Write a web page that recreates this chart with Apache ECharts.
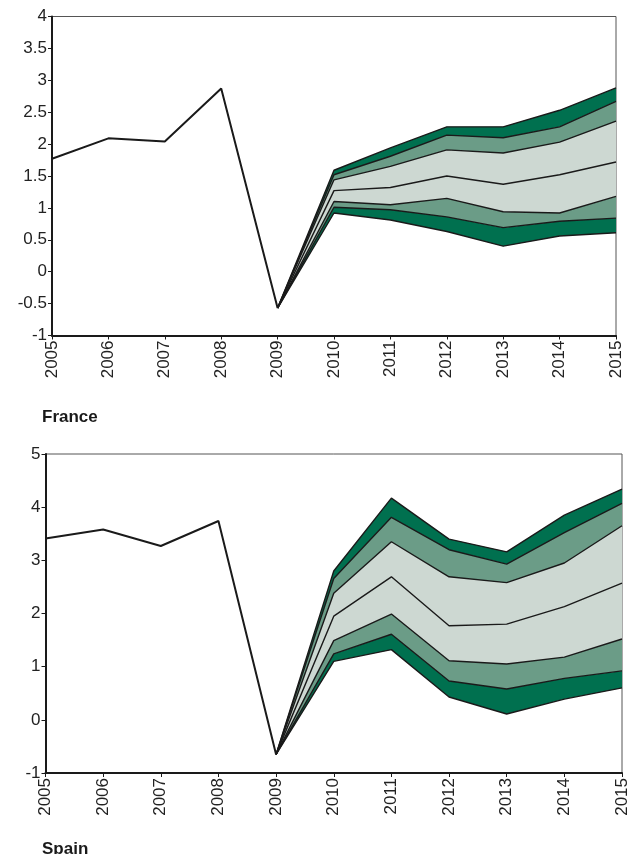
<!DOCTYPE html>
<html>
<head>
<meta charset="utf-8">
<script src="https://cdn.jsdelivr.net/npm/echarts@6/dist/echarts.min.js"></script>
<style>
html,body{margin:0;padding:0;background:#fff;}
#c{width:637px;height:854px;}
</style>
</head>
<body>
<div id="c"></div>
<script>
var years = ['2005','2006','2007','2008','2009','2010','2011','2012','2013','2014','2015'];

// France: history 2005-2009, fan 2010-2015
var frHist = [1.77, 2.09, 2.04, 2.87, -0.57];
var frP95 = [1.59, 1.94, 2.27, 2.27, 2.53, 2.88];
var frP90 = [1.52, 1.81, 2.14, 2.10, 2.27, 2.67];
var frP75 = [1.44, 1.65, 1.91, 1.86, 2.03, 2.36];
var frP50 = [1.27, 1.32, 1.50, 1.37, 1.52, 1.72];
var frP25 = [1.10, 1.05, 1.15, 0.94, 0.92, 1.18];
var frP10 = [1.01, 0.97, 0.86, 0.69, 0.79, 0.84];
var frP05 = [0.92, 0.81, 0.63, 0.40, 0.56, 0.61];

// Spain
var esHist = [3.41, 3.58, 3.27, 3.74, -0.65];
var esP95 = [2.80, 4.17, 3.40, 3.16, 3.85, 4.34];
var esP90 = [2.66, 3.81, 3.20, 2.93, 3.52, 4.07];
var esP75 = [2.38, 3.35, 2.69, 2.58, 2.95, 3.65];
var esP50 = [1.95, 2.69, 1.77, 1.80, 2.13, 2.57];
var esP25 = [1.49, 1.99, 1.11, 1.05, 1.18, 1.52];
var esP10 = [1.24, 1.61, 0.73, 0.58, 0.78, 0.92];
var esP05 = [1.10, 1.32, 0.43, 0.11, 0.39, 0.60];

var frYTicks = {min: -1, max: 4, interval: 0.5};
var esYTicks = {min: -1, max: 5, interval: 1};

var DARK = '#00704f', MED = '#6b9c87', LIGHT = '#cdd8d2';
var FONT = 'Liberation Sans, Arial, Helvetica, sans-serif';

function histData(h){ var a = h.slice(); while(a.length < years.length) a.push('-'); return a; }
function fanData(h, p){ return ['-','-','-','-', h[h.length-1]].concat(p); }
function diffData(h, hi, lo){
  var a = ['-','-','-','-', 0];
  for (var i=0;i<hi.length;i++) a.push(+(hi[i]-lo[i]).toFixed(4));
  return a;
}

function buildSeries(idx, hist, p){
  var s = [];
  var st = 'st' + idx;
  var bands = [
    {d: fanData(hist, p[6]), c: null},
    {d: diffData(hist, p[5], p[6]), c: DARK},
    {d: diffData(hist, p[4], p[5]), c: MED},
    {d: diffData(hist, p[2], p[4]), c: LIGHT},
    {d: diffData(hist, p[1], p[2]), c: MED},
    {d: diffData(hist, p[0], p[1]), c: DARK}
  ];
  bands.forEach(function(b){
    s.push({
      type: 'line', xAxisIndex: idx, yAxisIndex: idx, stack: st, data: b.d,
      symbol: 'none', silent: true, lineStyle: {width: 0, opacity: 0},
      areaStyle: b.c ? {color: b.c, opacity: 1} : null
    });
  });
  p.forEach(function(arr){
    s.push({
      type: 'line', xAxisIndex: idx, yAxisIndex: idx, data: fanData(hist, arr),
      symbol: 'none', silent: true, lineStyle: {color: '#1a1a1a', width: 1.4}
    });
  });
  s.push({
    type: 'line', xAxisIndex: idx, yAxisIndex: idx, data: histData(hist),
    symbol: 'none', silent: true, lineStyle: {color: '#1a1a1a', width: 2}
  });
  return s;
}

function xAxis(idx){
  return {
    type: 'category', gridIndex: idx, data: years, boundaryGap: false,
    axisLine: {onZero: false, lineStyle: {color: '#1a1a1a', width: 2}},
    axisTick: {length: 4, lineStyle: {color: '#1a1a1a', width: 1}},
    axisLabel: {rotate: 90, fontSize: 17, color: '#222', fontFamily: FONT, margin: 5}
  };
}
function yAxis(idx, t){
  return {
    type: 'value', gridIndex: idx, min: t.min, max: t.max, interval: t.interval,
    splitLine: {show: false},
    axisLine: {show: true, onZero: false, lineStyle: {color: '#1a1a1a', width: 2}},
    axisTick: {show: true, length: 4, lineStyle: {color: '#1a1a1a', width: 1}},
    axisLabel: {fontSize: 17, color: '#222', fontFamily: FONT, margin: 5}
  };
}

var chart = echarts.init(document.getElementById('c'), null, {renderer: 'canvas'});
chart.setOption({
  animation: false,
  backgroundColor: '#fff',
  title: [
    {text: 'France', left: 37, top: 404, textStyle: {fontSize: 17, fontWeight: 'bold', color: '#1a1a1a', fontFamily: FONT}},
    {text: 'Spain', left: 37, top: 836, textStyle: {fontSize: 17, fontWeight: 'bold', color: '#1a1a1a', fontFamily: FONT}}
  ],
  grid: [
    {left: 52, right: 21, top: 16.5, height: 319, show: true, borderColor: '#555', borderWidth: 1},
    {left: 45.5, right: 15, top: 454, height: 319, show: true, borderColor: '#555', borderWidth: 1}
  ],
  xAxis: [xAxis(0), xAxis(1)],
  yAxis: [yAxis(0, frYTicks), yAxis(1, esYTicks)],
  series: buildSeries(0, frHist, [frP95, frP90, frP75, frP50, frP25, frP10, frP05])
    .concat(buildSeries(1, esHist, [esP95, esP90, esP75, esP50, esP25, esP10, esP05]))
});
</script>
</body>
</html>
